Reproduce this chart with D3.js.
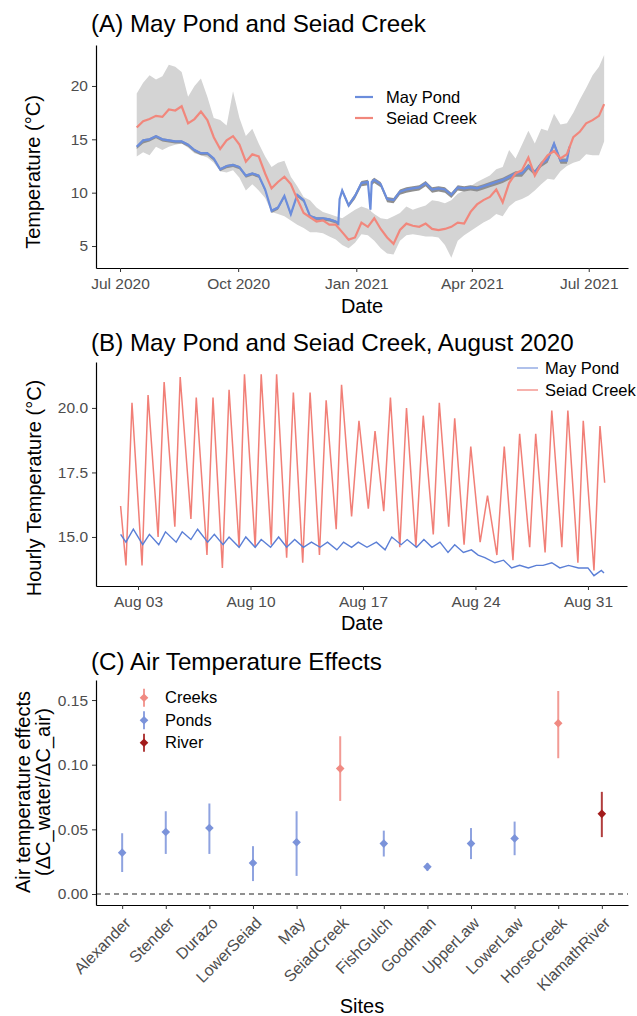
<!DOCTYPE html>
<html>
<head>
<meta charset="utf-8">
<script src="https://cdn.jsdelivr.net/npm/d3@7"></script>
<style>
  body { margin: 0; background: #fff; }
  svg { display: block; font-family: "Liberation Sans", Arial, sans-serif; }
  .tick text { fill: #4d4d4d; font-size: 15.5px; }
  .tick line { stroke: #333; }
  .domain { stroke: #000; stroke-width: 1.2px; }
</style>
</head>
<body>
<div id="chart"></div>
<script>
// ==============================
// Data
// ==============================

// --- (A) daily values, Seiad Creek (mean + daily min/max) ---
const seiadDailyDates = [
  "2020-07-14","2020-07-19","2020-07-24","2020-07-29","2020-08-03","2020-08-08","2020-08-13","2020-08-18",
  "2020-08-23","2020-08-28","2020-09-02","2020-09-07","2020-09-12","2020-09-17","2020-09-22","2020-09-27",
  "2020-10-02","2020-10-07","2020-10-12","2020-10-17","2020-10-22","2020-10-27","2020-11-01","2020-11-06",
  "2020-11-11","2020-11-16","2020-11-21","2020-11-26","2020-12-01","2020-12-06","2020-12-11","2020-12-16",
  "2020-12-21","2020-12-26","2020-12-31","2021-01-05","2021-01-10","2021-01-15","2021-01-20","2021-01-25",
  "2021-01-30","2021-02-04","2021-02-09","2021-02-14","2021-02-19","2021-02-24","2021-03-01","2021-03-06",
  "2021-03-11","2021-03-16","2021-03-21","2021-03-26","2021-03-31","2021-04-05","2021-04-10","2021-04-15",
  "2021-04-20","2021-04-25","2021-04-30","2021-05-05","2021-05-10","2021-05-15","2021-05-20","2021-05-25",
  "2021-05-30","2021-06-04","2021-06-09","2021-06-14","2021-06-19","2021-06-24","2021-06-29","2021-07-04",
  "2021-07-09","2021-07-13"
];
const seiadDailyMean = [
  16.1, 16.7, 16.9, 17.2, 17.1, 17.8, 17.7, 18.1, 16.5, 16.9, 17.6, 16.8, 15.2, 14.1, 14.9, 15.3,
  14.5, 12.9, 13.6, 13.4, 11.8, 10.4, 11.0, 11.5, 10.8, 9.4, 8.1, 7.7, 7.3, 7.4, 7.0, 7.0,
  6.3, 5.6, 5.8, 7.2, 6.8, 7.6, 6.6, 5.8, 5.2, 6.5, 7.1, 6.9, 6.8, 7.1, 6.6, 6.5,
  6.6, 6.8, 7.2, 7.1, 8.2, 8.9, 9.3, 9.6, 10.3, 9.1, 10.9, 11.8, 12.1, 13.3, 11.6, 12.7,
  13.5, 13.9, 13.2, 13.6, 15.2, 15.7, 16.5, 16.8, 17.2, 18.3
];
const seiadDailyMin = [
  13.4, 13.8, 13.5, 14.3, 14.0, 14.3, 14.5, 14.6, 14.2, 13.7, 13.5, 13.3, 12.8, 12.0, 11.9, 12.1,
  11.4, 10.2, 10.8, 10.2, 9.5, 8.2, 8.0, 7.8, 7.4, 7.0, 6.7, 6.3, 6.3, 6.2, 5.9, 5.6,
  5.1, 4.8, 5.3, 6.1, 6.0, 5.5, 4.8, 4.3, 4.2, 5.5, 6.0, 6.1, 6.0, 5.9, 5.9, 5.8,
  5.1, 3.9, 5.5, 6.0, 6.4, 6.8, 7.2, 7.5, 8.0, 7.8, 8.7, 9.2, 9.4, 9.7, 10.2, 10.8,
  11.3, 11.2, 12.0, 12.5, 12.8, 13.0, 13.6, 13.5, 13.5, 14.8
];
const seiadDailyMax = [
  19.3, 20.3, 21.0, 20.6, 20.9, 22.0, 21.8, 21.3, 19.0, 20.0, 20.7, 19.0, 17.0, 16.8, 16.3, 19.5,
  17.0, 15.3, 16.0, 14.6, 13.4, 12.4, 12.8, 13.0, 11.5, 10.6, 9.6, 9.3, 8.6, 8.2, 8.0, 7.8,
  7.6, 8.0, 8.4, 8.7, 8.5, 8.0, 7.6, 7.5, 7.8, 8.1, 8.7, 8.4, 8.6, 8.8, 9.3, 9.2,
  9.0, 9.3, 9.9, 10.2, 10.6, 11.0, 11.3, 11.6, 12.2, 12.4, 14.0, 13.2, 14.5, 15.8, 14.6, 16.0,
  15.8, 17.4, 16.4, 16.5, 17.5, 18.7, 19.8, 21.0, 21.8, 22.9
];

// --- (A) daily values, May Pond (mean + daily min/max) ---
const mayDailyDates = [
  "2020-07-14","2020-07-19","2020-07-24","2020-07-29","2020-08-03","2020-08-08","2020-08-13","2020-08-18",
  "2020-08-23","2020-08-28","2020-09-02","2020-09-07","2020-09-12","2020-09-17","2020-09-22","2020-09-27",
  "2020-10-02","2020-10-07","2020-10-12","2020-10-17","2020-10-22","2020-10-27","2020-11-01","2020-11-06",
  "2020-11-11","2020-11-16","2020-11-21","2020-11-26","2020-12-01","2020-12-06","2020-12-11","2020-12-16",
  "2020-12-18","2020-12-19","2020-12-21","2020-12-26","2020-12-31","2021-01-05","2021-01-10","2021-01-12",
  "2021-01-13","2021-01-15","2021-01-20","2021-01-25","2021-01-30","2021-02-04","2021-02-09","2021-02-14",
  "2021-02-19","2021-02-24","2021-03-01","2021-03-06","2021-03-11","2021-03-16","2021-03-21","2021-03-26",
  "2021-03-31","2021-04-05","2021-04-10","2021-04-15","2021-04-20","2021-04-25","2021-04-30","2021-05-05",
  "2021-05-10","2021-05-15","2021-05-20","2021-05-25","2021-05-30","2021-06-04","2021-06-09","2021-06-14",
  "2021-06-16"
];
const mayDailyMean = [
  14.3, 14.9, 15.0, 15.3, 15.0, 14.9, 14.8, 14.8, 14.5, 14.0, 13.7, 13.7, 13.2, 12.2, 12.5, 12.6,
  12.4, 11.6, 11.8, 11.6, 10.3, 8.3, 8.6, 9.7, 8.0, 9.8, 9.3, 7.8, 7.6, 7.6, 7.5, 7.3,
  7.1, 9.4, 10.2, 8.8, 9.7, 10.9, 11.0, 8.4, 11.0, 11.2, 10.8, 9.4, 9.3, 10.1, 10.3, 10.4,
  10.5, 10.9, 10.3, 10.4, 10.3, 9.8, 10.5, 10.4, 10.5, 10.4, 10.6, 10.8, 11.0, 11.2, 11.5, 11.8,
  11.8, 12.5, 11.9, 12.7, 13.1, 14.6, 13.0, 13.0, 14.3
];
const mayDailyMin = [
  14.1, 14.6, 14.8, 15.1, 14.8, 14.7, 14.6, 14.6, 14.3, 13.8, 13.5, 13.5, 13.0, 12.0, 12.3, 12.4,
  12.2, 11.4, 11.6, 11.4, 10.1, 8.1, 8.4, 9.5, 7.8, 9.6, 9.1, 7.6, 7.4, 7.4, 7.3, 7.1,
  6.9, 9.2, 10.0, 8.6, 9.4, 10.6, 10.7, 8.2, 10.7, 10.9, 10.5, 9.1, 9.0, 9.8, 10.0, 10.1,
  10.2, 10.6, 10.0, 10.1, 10.0, 9.5, 10.2, 10.1, 10.2, 10.1, 10.3, 10.5, 10.7, 10.9, 11.2, 11.5,
  11.5, 12.2, 11.6, 12.4, 12.8, 14.3, 12.7, 12.7, 14.0
];
const mayDailyMax = [
  14.4, 15.0, 15.1, 15.4, 15.1, 15.0, 14.9, 14.9, 14.6, 14.1, 13.8, 13.8, 13.3, 12.3, 12.6, 12.7,
  12.5, 11.7, 11.9, 11.7, 10.4, 8.4, 8.7, 9.8, 8.1, 9.9, 9.4, 7.9, 7.7, 7.7, 7.6, 7.4,
  7.2, 9.5, 10.4, 9.0, 9.9, 11.1, 11.2, 8.6, 11.2, 11.4, 11.0, 9.6, 9.5, 10.3, 10.5, 10.6,
  10.7, 11.1, 10.5, 10.6, 10.5, 10.0, 10.7, 10.6, 10.7, 10.6, 10.8, 11.0, 11.2, 11.4, 11.7, 12.0,
  12.0, 12.7, 12.1, 12.9, 13.3, 14.8, 13.2, 13.2, 14.5
];

// --- (B) hourly turning points, August 2020 ---
const seiadHourlyTimes = [
  "2020-08-01 22:00","2020-08-02 06:00","2020-08-02 15:00","2020-08-03 06:00","2020-08-03 15:00",
  "2020-08-04 06:00","2020-08-04 15:00","2020-08-05 07:00","2020-08-05 15:00","2020-08-06 07:00",
  "2020-08-06 15:00","2020-08-07 07:00","2020-08-07 16:00","2020-08-08 06:00","2020-08-08 16:00",
  "2020-08-09 07:00","2020-08-09 15:00","2020-08-10 07:00","2020-08-10 16:00","2020-08-11 07:00",
  "2020-08-11 15:00","2020-08-12 06:00","2020-08-12 16:00","2020-08-13 06:00","2020-08-13 17:00",
  "2020-08-14 07:00","2020-08-14 17:00","2020-08-15 08:00","2020-08-15 16:00","2020-08-16 07:00",
  "2020-08-16 18:00","2020-08-17 08:00","2020-08-17 18:00","2020-08-18 07:00","2020-08-18 17:00",
  "2020-08-19 07:00","2020-08-19 17:00","2020-08-20 07:00","2020-08-20 18:00","2020-08-21 09:00",
  "2020-08-21 18:00","2020-08-22 08:00","2020-08-22 17:00","2020-08-23 07:00","2020-08-23 17:00",
  "2020-08-24 07:00","2020-08-24 18:00","2020-08-25 08:00","2020-08-25 19:00","2020-08-26 08:00",
  "2020-08-26 18:00","2020-08-27 09:00","2020-08-27 18:00","2020-08-28 08:00","2020-08-28 18:00",
  "2020-08-29 09:00","2020-08-29 18:00","2020-08-30 09:00","2020-08-30 17:00","2020-08-31 09:00",
  "2020-08-31 18:00","2020-09-01 01:00"
];
const seiadHourlyTemp = [
  16.2, 13.9, 20.2, 13.9, 20.5, 15.0, 21.0, 15.4, 21.2, 15.7,
  20.4, 14.3, 20.4, 13.8, 20.7, 14.6, 21.3, 14.6, 21.3, 14.7,
  21.3, 14.2, 20.6, 14.0, 20.6, 14.3, 20.3, 15.3, 20.9, 15.8,
  19.5, 16.1, 19.1, 16.0, 20.4, 14.6, 20.0, 14.6, 19.7, 15.1,
  20.2, 15.4, 19.6, 14.7, 18.5, 14.8, 16.6, 14.3, 18.5, 14.1,
  19.0, 14.6, 19.0, 14.4, 19.9, 14.6, 19.9, 14.0, 19.5, 13.7,
  19.3, 17.1
];
const mayHourlyTimes = [
  "2020-08-01 22:00","2020-08-02 06:00","2020-08-02 17:00","2020-08-03 07:00","2020-08-03 17:00",
  "2020-08-04 07:00","2020-08-04 17:00","2020-08-05 09:00","2020-08-05 18:00","2020-08-06 07:00",
  "2020-08-06 17:00","2020-08-07 08:00","2020-08-07 18:00","2020-08-08 07:00","2020-08-08 16:00",
  "2020-08-09 07:00","2020-08-09 17:00","2020-08-10 07:00","2020-08-10 16:00","2020-08-11 06:00",
  "2020-08-11 18:00","2020-08-12 06:00","2020-08-12 18:00","2020-08-13 07:00","2020-08-13 19:00",
  "2020-08-14 08:00","2020-08-14 19:00","2020-08-15 09:00","2020-08-15 19:00","2020-08-16 07:00",
  "2020-08-16 17:00","2020-08-17 06:00","2020-08-17 20:00","2020-08-18 09:00","2020-08-18 19:00",
  "2020-08-19 09:00","2020-08-19 18:00","2020-08-20 08:00","2020-08-20 19:00","2020-08-21 07:00",
  "2020-08-21 19:00","2020-08-22 07:00","2020-08-22 17:00","2020-08-23 06:00","2020-08-23 18:00",
  "2020-08-24 04:00","2020-08-24 14:00","2020-08-25 05:00","2020-08-25 18:00","2020-08-26 06:00",
  "2020-08-26 18:00","2020-08-27 07:00","2020-08-27 19:00","2020-08-28 05:00","2020-08-28 18:00",
  "2020-08-29 06:00","2020-08-29 19:00","2020-08-30 10:00","2020-08-31 00:00","2020-08-31 09:00",
  "2020-08-31 20:00","2020-09-01 00:00"
];
const mayHourlyTemp = [
  15.1, 14.8, 15.3, 14.7, 15.1, 14.7, 15.2, 14.8, 15.2, 14.9,
  15.3, 14.8, 15.1, 14.7, 15.0, 14.6, 15.0, 14.6, 14.9, 14.6,
  15.0, 14.6, 14.9, 14.6, 14.8, 14.6, 14.8, 14.5, 14.8, 14.6,
  14.8, 14.6, 14.8, 14.5, 15.0, 14.7, 14.9, 14.6, 14.9, 14.6,
  14.8, 14.4, 14.7, 14.4, 14.5, 14.3, 14.2, 14.0, 14.1, 13.8,
  13.9, 13.8, 13.9, 13.9, 14.0, 13.8, 13.9, 13.8, 13.8, 13.5,
  13.7, 13.6
];

// --- (C) air temperature effects per site ---
const sites = ["Alexander", "Stender", "Durazo", "LowerSeiad", "May", "SeiadCreek",
               "FishGulch", "Goodman", "UpperLaw", "LowerLaw", "HorseCreek", "KlamathRiver"];
const siteType = ["Ponds", "Ponds", "Ponds", "Ponds", "Ponds", "Creeks",
                  "Ponds", "Ponds", "Ponds", "Ponds", "Creeks", "River"];
const effect     = [0.032, 0.048, 0.051, 0.024, 0.040, 0.097, 0.039, 0.021, 0.039, 0.043, 0.132, 0.062];
const effectLow  = [0.017, 0.031, 0.031, 0.010, 0.014, 0.072, 0.029, 0.018, 0.027, 0.030, 0.105, 0.044];
const effectHigh = [0.047, 0.064, 0.070, 0.037, 0.064, 0.122, 0.049, 0.024, 0.051, 0.056, 0.157, 0.079];
const typeNames = ["Creeks", "Ponds", "River"];

// --- tick labels ---
const aTickDates = ["2020-07-01", "2020-10-01", "2021-01-01", "2021-04-01", "2021-07-01"];
const bTickDates = ["2020-08-03", "2020-08-10", "2020-08-17", "2020-08-24", "2020-08-31"];

// ==============================
// Setup
// ==============================
const W = 637, H = 1016;
const colMay = "#6b8ddc", colSeiad = "#f1877c";
const typeColor = d3.scaleOrdinal().domain(typeNames).range(["#f08a82", "#7b93da", "#a31c1c"]);

const parseDay = d3.timeParse("%Y-%m-%d");
const parseHour = d3.timeParse("%Y-%m-%d %H:%M");

const svg = d3.select("#chart").append("svg")
  .attr("width", W)
  .attr("height", H);

svg.append("rect").attr("width", W).attr("height", H).attr("fill", "#fff");

function title(text, y) {
  svg.append("text")
    .attr("x", 91).attr("y", y)
    .attr("font-size", 24.2)
    .attr("fill", "#000")
    .text(text);
}

function yTitle(text, x, y) {
  svg.append("text")
    .attr("transform", `translate(${x},${y}) rotate(-90)`)
    .attr("text-anchor", "middle")
    .attr("font-size", 20)
    .attr("fill", "#000")
    .text(text);
}

function xTitle(text, y) {
  svg.append("text")
    .attr("x", 362).attr("y", y)
    .attr("text-anchor", "middle")
    .attr("font-size", 20)
    .attr("fill", "#000")
    .text(text);
}

// ==============================
// (A) May Pond and Seiad Creek
// ==============================
const seiadDaily = seiadDailyDates.map((d, i) => ({
  date: parseDay(d), mean: seiadDailyMean[i], lo: seiadDailyMin[i], hi: seiadDailyMax[i]
}));
const mayDaily = mayDailyDates.map((d, i) => ({
  date: parseDay(d), mean: mayDailyMean[i], lo: mayDailyMin[i], hi: mayDailyMax[i]
}));

const aX = d3.scaleTime()
  .domain([new Date(2020, 5, 12, 7), new Date(2021, 6, 31, 14)])
  .range([96, 628]);
const aY = d3.scaleLinear().domain([2.94, 23.84]).range([268, 45]);

const aBand = d3.area().x(d => aX(d.date)).y0(d => aY(d.lo)).y1(d => aY(d.hi));
const aLine = d3.line().x(d => aX(d.date)).y(d => aY(d.mean));

const gA = svg.append("g");
gA.append("path").datum(seiadDaily).attr("d", aBand).attr("fill", "#d4d4d4");
gA.append("path").datum(mayDaily).attr("d", aBand).attr("fill", "#8f8f8f");
gA.append("path").datum(mayDaily).attr("d", aLine)
  .attr("fill", "none").attr("stroke", colMay).attr("stroke-width", 2.2);
gA.append("path").datum(seiadDaily).attr("d", aLine)
  .attr("fill", "none").attr("stroke", colSeiad).attr("stroke-width", 2.2);

gA.append("g").attr("transform", "translate(0,268)")
  .call(d3.axisBottom(aX).tickValues(aTickDates.map(parseDay))
    .tickFormat(d3.timeFormat("%b %Y")).tickSize(4).tickSizeOuter(0).tickPadding(6));
gA.append("g").attr("transform", "translate(96,0)")
  .call(d3.axisLeft(aY).tickValues([5, 10, 15, 20]).tickSize(4).tickSizeOuter(0).tickPadding(4));

// --- legend A ---
[["May Pond", colMay, 97], ["Seiad Creek", colSeiad, 118]].forEach(([name, col, y]) => {
  gA.append("line").attr("x1", 355).attr("x2", 373).attr("y1", y).attr("y2", y)
    .attr("stroke", col).attr("stroke-width", 2.2);
  gA.append("text").attr("x", 386).attr("y", y).attr("dy", "0.35em")
    .attr("font-size", 16.5).text(name);
});

title("(A) May Pond and Seiad Creek", 32);
yTitle("Temperature (°C)", 39.5, 172);
xTitle("Date", 313);

// ==============================
// (B) Hourly, August 2020
// ==============================
const seiadHourly = seiadHourlyTimes.map((t, i) => ({ date: parseHour(t), v: seiadHourlyTemp[i] }));
const mayHourly = mayHourlyTimes.map((t, i) => ({ date: parseHour(t), v: mayHourlyTemp[i] }));

const bX = d3.scaleTime()
  .domain([new Date(2020, 6, 31, 9, 15), new Date(2020, 8, 2, 10, 20)])
  .range([96, 627]);
const bY = d3.scaleLinear().domain([13.10, 21.78]).range([586, 362]);
const bLine = d3.line().x(d => bX(d.date)).y(d => bY(d.v));

const gB = svg.append("g");
gB.append("path").datum(seiadHourly).attr("d", bLine)
  .attr("fill", "none").attr("stroke", "#ee5f55").attr("stroke-opacity", 0.8).attr("stroke-width", 1.5);
gB.append("path").datum(mayHourly).attr("d", bLine)
  .attr("fill", "none").attr("stroke", "#5b7fd6").attr("stroke-width", 1.4);

gB.append("g").attr("transform", "translate(0,586)")
  .call(d3.axisBottom(bX).tickValues(bTickDates.map(parseDay))
    .tickFormat(d3.timeFormat("%b %d")).tickSize(4).tickSizeOuter(0).tickPadding(6));
gB.append("g").attr("transform", "translate(96,0)")
  .call(d3.axisLeft(bY).tickValues([15, 17.5, 20]).tickFormat(d3.format(".1f"))
    .tickSize(4).tickSizeOuter(0).tickPadding(4));

// --- legend B ---
[["May Pond", "#5b7fd6", 368], ["Seiad Creek", "#ee5f55", 390]].forEach(([name, col, y]) => {
  gB.append("line").attr("x1", 517).attr("x2", 538).attr("y1", y).attr("y2", y)
    .attr("stroke", col).attr("stroke-opacity", 0.75).attr("stroke-width", 1.3);
  gB.append("text").attr("x", 545).attr("y", y).attr("dy", "0.35em")
    .attr("font-size", 16.5).text(name);
});

title("(B) May Pond and Seiad Creek, August 2020", 351);
yTitle("Hourly Temperature (°C)", 41, 488);
xTitle("Date", 630);

// ==============================
// (C) Air Temperature Effects
// ==============================
const effects = sites.map((s, i) => ({
  site: s, type: siteType[i], est: effect[i], lo: effectLow[i], hi: effectHigh[i]
}));

const cX = d3.scalePoint().domain(sites).range([96, 628]).padding(0.6);
const cY = d3.scaleLinear().domain([-0.0085, 0.1655]).range([905, 680]);
const diamond = r => `M0,${-r}L${r},0L0,${r}L${-r},0Z`;

const gC = svg.append("g");
gC.append("line")
  .attr("x1", 96).attr("x2", 628).attr("y1", cY(0)).attr("y2", cY(0))
  .attr("stroke", "#222").attr("stroke-width", 1.2).attr("stroke-dasharray", "5,4");

const pr = gC.selectAll("g.pr").data(effects).join("g")
  .attr("class", "pr")
  .attr("transform", d => `translate(${cX(d.site)},0)`);
pr.append("line")
  .attr("y1", d => cY(d.lo)).attr("y2", d => cY(d.hi))
  .attr("stroke", d => typeColor(d.type)).attr("stroke-opacity", 0.85).attr("stroke-width", 2);
pr.append("path")
  .attr("transform", d => `translate(0,${cY(d.est)})`)
  .attr("d", diamond(4.3))
  .attr("fill", d => typeColor(d.type));

const cxAxis = gC.append("g").attr("transform", "translate(0,905)")
  .call(d3.axisBottom(cX).tickSize(4).tickSizeOuter(0));
cxAxis.selectAll(".tick text")
  .attr("x", 0).attr("y", 0).attr("dy", 0)
  .attr("text-anchor", "end")
  .style("font-size", "16px")
  .attr("transform", "translate(9,19) rotate(-45)");
gC.append("g").attr("transform", "translate(96,0)")
  .call(d3.axisLeft(cY).tickValues([0, 0.05, 0.10, 0.15]).tickFormat(d3.format(".2f"))
    .tickSize(4).tickSizeOuter(0).tickPadding(4));

// --- legend C ---
typeNames.forEach((name, i) => {
  const y = 697.7 + i * 22.5;
  gC.append("line").attr("x1", 144).attr("x2", 144).attr("y1", y - 9).attr("y2", y + 9)
    .attr("stroke", typeColor(name)).attr("stroke-opacity", 0.85).attr("stroke-width", 2);
  gC.append("path").attr("transform", `translate(144,${y})`).attr("d", diamond(4.3))
    .attr("fill", typeColor(name));
  gC.append("text").attr("x", 165).attr("y", y).attr("dy", "0.35em")
    .attr("font-size", 16.5).text(name);
});

title("(C) Air Temperature Effects", 670);
yTitle("Air temperature effects", 29.5, 792);
yTitle("(ΔC_water/ΔC_air)", 49.5, 792);
xTitle("Sites", 1013);
</script>
</body>
</html>
